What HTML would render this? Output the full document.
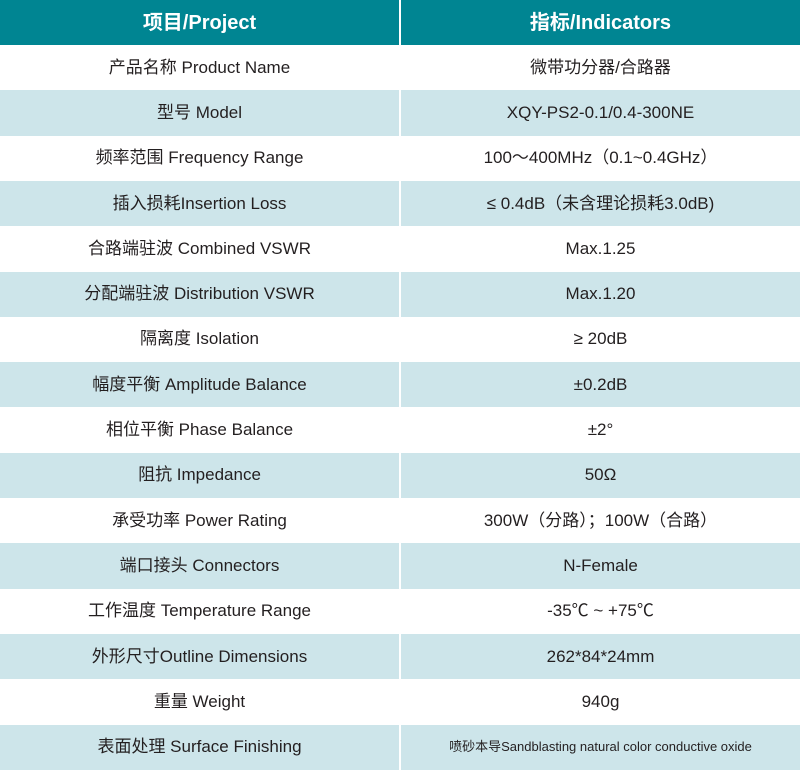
<!DOCTYPE html><html><head><meta charset="utf-8"><style>
body{margin:0;width:800px;height:770px;overflow:hidden;background:#fff;font-family:"Liberation Sans","Noto Sans CJK SC",sans-serif;}
.r{position:absolute;left:0;width:800px;height:45.3px;}
.c{position:absolute;top:0;height:100%;display:flex;align-items:center;justify-content:center;font-size:17px;line-height:20px;color:#231f20;}
.c span{display:block;line-height:20px;height:20px;}
.a{left:0;width:399px}.b{left:401px;width:399px}
.h .c{background:#008592;color:#fff;font-size:20px;font-weight:bold}
.g .c{background:#cde5ea}
</style></head><body>
<div class="r h" style="top:0;height:45px"><div class="c a"><span>项目/Project</span></div><div class="c b"><span>指标/Indicators</span></div></div>
<div class="r" style="top:45px"><div class="c a"><span>产品名称 Product Name</span></div><div class="c b"><span>微带功分器/合路器</span></div></div>
<div class="r g" style="top:90.3px"><div class="c a"><span>型号 Model</span></div><div class="c b"><span>XQY-PS2-0.1/0.4-300NE</span></div></div>
<div class="r" style="top:135.6px"><div class="c a"><span>频率范围 Frequency Range</span></div><div class="c b"><span>100～400MHz（0.1~0.4GHz）</span></div></div>
<div class="r g" style="top:180.9px"><div class="c a"><span>插入损耗Insertion Loss</span></div><div class="c b"><span>≤ 0.4dB（未含理论损耗3.0dB)</span></div></div>
<div class="r" style="top:226.2px"><div class="c a"><span>合路端驻波 Combined VSWR</span></div><div class="c b"><span>Max.1.25</span></div></div>
<div class="r g" style="top:271.5px"><div class="c a"><span>分配端驻波 Distribution VSWR</span></div><div class="c b"><span>Max.1.20</span></div></div>
<div class="r" style="top:316.8px"><div class="c a"><span>隔离度 Isolation</span></div><div class="c b"><span>≥ 20dB</span></div></div>
<div class="r g" style="top:362.1px"><div class="c a"><span>幅度平衡 Amplitude Balance</span></div><div class="c b"><span>±0.2dB</span></div></div>
<div class="r" style="top:407.4px"><div class="c a"><span>相位平衡 Phase Balance</span></div><div class="c b"><span>±2°</span></div></div>
<div class="r g" style="top:452.7px"><div class="c a"><span>阻抗 Impedance</span></div><div class="c b"><span>50Ω</span></div></div>
<div class="r" style="top:498px"><div class="c a"><span>承受功率 Power Rating</span></div><div class="c b"><span>300W（分路）；100W（合路）</span></div></div>
<div class="r g" style="top:543.3px"><div class="c a"><span>端口接头 Connectors</span></div><div class="c b"><span>N-Female</span></div></div>
<div class="r" style="top:588.6px"><div class="c a"><span>工作温度 Temperature Range</span></div><div class="c b"><span>-35℃ ~ +75℃</span></div></div>
<div class="r g" style="top:633.9px"><div class="c a"><span>外形尺寸Outline Dimensions</span></div><div class="c b"><span>262*84*24mm</span></div></div>
<div class="r" style="top:679.2px"><div class="c a"><span>重量 Weight</span></div><div class="c b"><span>940g</span></div></div>
<div class="r g" style="top:724.5px"><div class="c a"><span>表面处理 Surface Finishing</span></div><div class="c b" style="font-size:13px"><span>喷砂本导Sandblasting natural color conductive oxide</span></div></div>
</body></html>
